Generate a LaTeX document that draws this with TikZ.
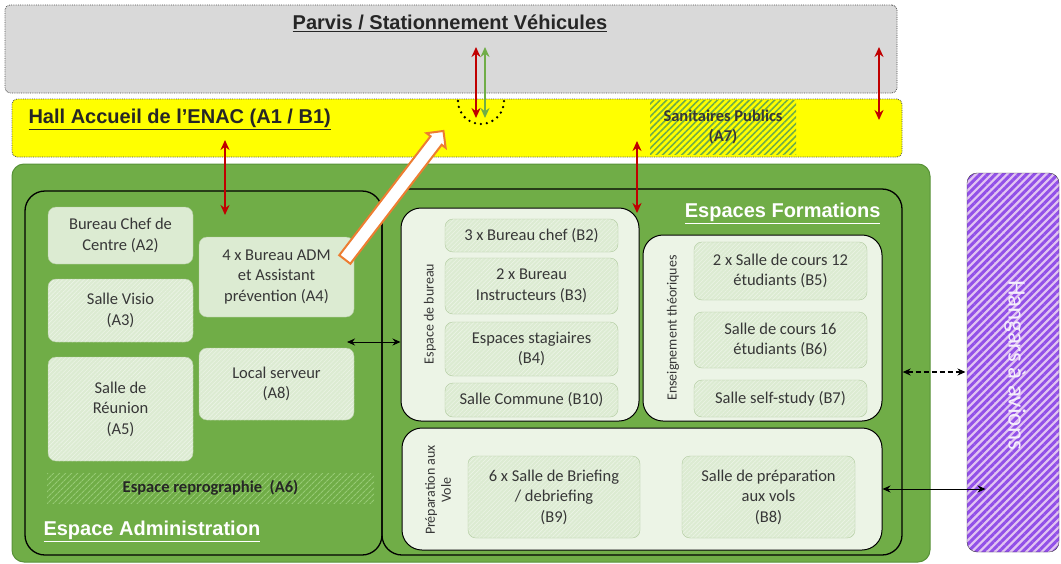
\documentclass[tikz,border=0pt]{standalone}
\usepackage{fontspec}
\setmainfont{Carlito}
\newfontfamily\headfont{Liberation Sans}
\usepackage{xcolor}
\usepackage{tikz}
\usetikzlibrary{arrows.meta, shapes.arrows, patterns.meta}
\definecolor{lawn}{RGB}{112,173,71}
\definecolor{lawndark}{RGB}{88,146,56}
\definecolor{lawnstripe}{RGB}{150,202,116}
\definecolor{roomfill}{RGB}{220,235,210}
\definecolor{roomline}{RGB}{176,202,158}
\definecolor{groupfill}{RGB}{236,244,230}
\definecolor{hallyellow}{RGB}{255,255,0}
\definecolor{parvisgray}{RGB}{217,217,217}
\definecolor{exitred}{RGB}{192,0,0}
\definecolor{hangarpurple}{RGB}{146,80,232}
\definecolor{hangarpink}{RGB}{226,196,242}
\definecolor{hangartext}{RGB}{244,238,252}
\definecolor{arroworange}{RGB}{237,125,49}
\definecolor{inktext}{RGB}{55,55,55}
\newcommand{\roomsize}{\fontsize{16.5}{20.5}\selectfont}
\newcommand{\sidesize}{\fontsize{14}{16}\selectfont}
\newcommand{\titlesize}{\fontsize{20}{24}\selectfont}
\tikzset{
    zone/.style={rectangle, rounded corners=5pt, draw=black!70, densely dotted, thick, inner sep=0pt},
    block/.style={rectangle, rounded corners=20pt, draw=black, line width=1.3pt, inner sep=0pt},
    group/.style={rectangle, rounded corners=20pt, draw=black, line width=1pt, fill=groupfill, inner sep=0pt},
    room/.style={rectangle, rounded corners=8pt, draw=roomline, fill=roomfill, text=inktext, align=center, font=\roomsize, inner sep=2pt},
    hatchroom/.style={room, preaction={fill=roomfill}, pattern={Lines[angle=45,distance=3pt,line width=0.6pt]}, pattern color=white!45!roomfill},
    sidelabel/.style={rotate=90, text=inktext, align=center, font=\sidesize},
    blacktitle/.style={text=black!85, font=\headfont\bfseries\titlesize},
    whitetitle/.style={text=white, font=\headfont\bfseries\titlesize},
    exitflow/.style={{Stealth[length=10pt,width=9pt]}-{Stealth[length=10pt,width=9pt]}, exitred, line width=2.2pt},
    link/.style={{Stealth[length=8pt,width=7pt]}-{Stealth[length=8pt,width=7pt]}, black, line width=1pt}
}

\begin{document}
\begin{tikzpicture}[
    x=1pt, y=-1pt,
    sanitary/.style={rectangle, preaction={fill=hallyellow}, pattern={Lines[angle=45,distance=4.5pt,line width=1.6pt]}, pattern color=lawn, text=inktext, align=center, font=\roomsize\bfseries},
    reprobox/.style={rectangle, preaction={fill=lawn}, pattern={Lines[angle=45,distance=4pt,line width=1.2pt]}, pattern color=lawnstripe, text=black!85, font=\roomsize\bfseries},
    hangarbox/.style={rectangle, rounded corners=10pt, draw=black!75, preaction={fill=hangarpink}, pattern={Lines[angle=45,distance=5.5pt,line width=3pt]}, pattern color=hangarpurple},
    bigarrow/.style={single arrow, draw=arroworange, line width=2pt, fill=white, inner sep=6pt, single arrow head extend=5pt, minimum height=162pt},
    ringdots/.style={black, line width=2.6pt, dash pattern=on 0pt off 6pt, line cap=round}
]
    \useasboundingbox (0,0) rectangle (1061,563);

    % Parvis and hall
    \node[zone, fill=parvisgray, minimum width=892pt, minimum height=88pt] (parvis) at (451,49) {};
    \node[blacktitle] (parvistitle) at (450,23) {\underline{Parvis / Stationnement Véhicules}};
    \node[zone, fill=hallyellow, minimum width=890pt, minimum height=58pt] (hall) at (457,128) {};
    \node[sanitary, minimum width=146pt, minimum height=54pt] (a7) at (723,127) {Sanitaires Publics\\(A7)};
    \node[blacktitle, anchor=west] (halltitle) at (25,119) {\underline{Hall Accueil de l’ENAC (A1 / B1)}};

    % Building
    \node[rectangle, rounded corners=12pt, fill=lawn, draw=lawndark, line width=1pt, minimum width=918pt, minimum height=398pt] (site) at (471,363) {};
    \node[block, minimum width=357pt, minimum height=364pt] (admin) at (203.5,373) {};
    \node[block, minimum width=520pt, minimum height=366pt] (formations) at (642,372) {};

    % Espace Administration
    \node[room, minimum width=145pt, minimum height=57pt] (a2) at (120.5,235.5) {Bureau Chef de\\Centre (A2)};
    \node[room, minimum width=155pt, minimum height=80pt] (a4) at (276.5,277) {4 x Bureau ADM\\et Assistant\\prévention (A4)};
    \node[hatchroom, minimum width=145pt, minimum height=63pt] (a3) at (120.5,310.5) {Salle Visio\\(A3)};
    \node[hatchroom, minimum width=155pt, minimum height=72pt] (a8) at (276.5,384) {Local serveur\\(A8)};
    \node[hatchroom, minimum width=145pt, minimum height=104pt] (a5) at (120.5,409) {Salle de\\Réunion\\(A5)};
    \node[reprobox, minimum width=327pt, minimum height=30pt] (a6) at (210.5,488) {Espace reprographie~~(A6)};
    \node[whitetitle, anchor=west] (admintitle) at (40,531) {\underline{Espace Administration}};

    % Espaces Formations
    \node[whitetitle, anchor=east] (formtitle) at (884,213) {\underline{Espaces Formations}};
    \node[group, minimum width=238pt, minimum height=213pt] (bureau) at (520,314.5) {};
    \node[group, minimum width=239pt, minimum height=186pt] (enseign) at (762.5,328) {};
    \node[group, minimum width=480pt, minimum height=122pt] (prepa) at (642,489) {};
    \node[sidelabel] (bureaulabel) at (430,314) {Espace de bureau};
    \node[sidelabel] (enseignlabel) at (673,328) {Enseignement théoriques};
    \node[sidelabel] (prepalabel) at (438,490) {Préparation aux\\Vole};

    \node[hatchroom, minimum width=173pt, minimum height=33pt] (b2) at (531.5,235.5) {3 x Bureau chef (B2)};
    \node[hatchroom, minimum width=173pt, minimum height=56pt] (b3) at (531.5,286) {2 x Bureau\\Instructeurs (B3)};
    \node[hatchroom, minimum width=173pt, minimum height=54pt] (b4) at (531.5,349) {Espaces stagiaires\\(B4)};
    \node[hatchroom, minimum width=173pt, minimum height=34pt] (b10) at (531.5,400) {Salle Commune (B10)};
    \node[hatchroom, minimum width=173pt, minimum height=58pt] (b5) at (780.5,271) {2 x Salle de cours 12\\étudiants (B5)};
    \node[hatchroom, minimum width=173pt, minimum height=56pt] (b6) at (780.5,340) {Salle de cours 16\\étudiants (B6)};
    \node[hatchroom, minimum width=173pt, minimum height=37pt] (b7) at (780.5,398.5) {Salle self-study (B7)};
    \node[hatchroom, minimum width=172pt, minimum height=82pt] (b9) at (554,497) {6 x Salle de Briefing\\/ debriefing\\(B9)};
    \node[hatchroom, minimum width=173pt, minimum height=82pt] (b8) at (768.5,497) {Salle de préparation\\aux vols\\(B8)};

    % Hangars
    \node[hangarbox, minimum width=92pt, minimum height=379pt] (hangar) at (1013,362.5) {};
    \node[rotate=-90, text=hangartext, font=\fontsize{25}{30}\selectfont] (hangartitle) at (1015,365) {Hangars à avions};

    % Access points
    \coordinate (parvisGate) at (476,47);
    \coordinate (hallGate) at (476,118);
    \coordinate (parvisEast) at (879,47);
    \coordinate (hallEast) at (879,120);
    \coordinate (hallA) at (225,140);
    \coordinate (adminDoor) at (225,215);
    \coordinate (hallB) at (637,141);
    \coordinate (formDoor) at (637,213);
    \coordinate (adminPort) at (347,342);
    \coordinate (gateRing) at (481,101);

    % Connections
    \draw[exitflow] (parvisGate) -- (hallGate);
    \draw[exitflow, lawn] ([xshift=9pt]parvisGate) -- ([xshift=9pt]hallGate);
    \draw[exitflow] (parvisEast) -- (hallEast);
    \draw[exitflow] (hallA) -- (adminDoor);
    \draw[exitflow] (hallB) -- (formDoor);
    \draw[link] (adminPort) -- (adminPort -| bureau.west);
    \draw[link, dash pattern=on 5pt off 3pt, line width=1.3pt] (formations.east) -- (hangar.west |- formations.east);
    \draw[link] (prepa.east) -- ([xshift=20pt]hangar.west |- prepa.east);
    \draw[ringdots] ([xshift=-23pt]gateRing) arc[start angle=180, end angle=360, radius=23pt];
    \node[bigarrow, rotate=52.5] (toHall) at (392,198) {};
\end{tikzpicture}
\end{document}
